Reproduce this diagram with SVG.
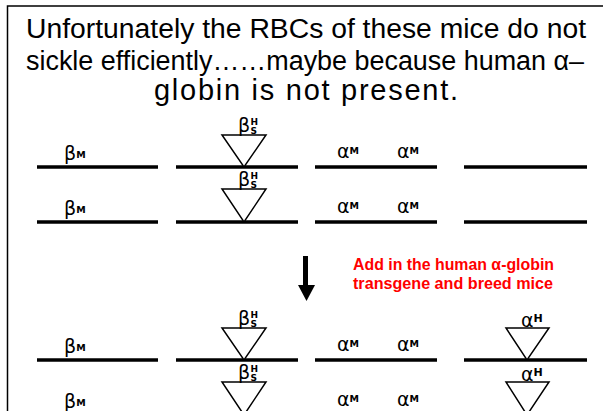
<svg xmlns="http://www.w3.org/2000/svg" width="603" height="411" viewBox="0 0 603 411">
<style>
.title{font-family:"Liberation Sans","DejaVu Sans",sans-serif;font-size:27px;fill:#000;text-anchor:middle}
.t3{font-size:29px}
.note{font-family:"Liberation Sans","DejaVu Sans",sans-serif;font-size:16px;font-weight:bold;fill:#ff0000;text-anchor:start}
.chr{stroke:#000;stroke-width:3.5;fill:none}
.tri{stroke:#000;stroke-width:1.5;fill:#fff}
.g{font-family:"DejaVu Sans","Liberation Sans",sans-serif;font-size:19px;fill:#000}
.sup{font-family:"DejaVu Sans","Liberation Sans",sans-serif;font-size:9.5px;font-weight:bold;fill:#000}
.ss{font-family:"DejaVu Sans","Liberation Sans",sans-serif;font-size:9px;font-weight:bold;fill:#000}
.supH{font-family:"DejaVu Sans","Liberation Sans",sans-serif;font-size:11px;font-weight:bold;fill:#000}
</style>
<rect x="0" y="0" width="603" height="411" fill="#fff"/>
<path d="M7.5 411 V6 H603" stroke="#000" stroke-width="1.5" fill="none"/>
<g id="title">
<text class="title" x="306" y="38" textLength="560" lengthAdjust="spacingAndGlyphs">Unfortunately the RBCs of these mice do not</text>
<text class="title" x="305" y="70" textLength="558" lengthAdjust="spacingAndGlyphs">sickle efficiently……maybe because human α–</text>
<text class="title t3" x="306" y="100" textLength="304" lengthAdjust="spacing">globin is not present.</text>
</g>
<g id="note">
<text class="note" x="353" y="270" textLength="201" lengthAdjust="spacingAndGlyphs">Add in the human α-globin</text>
<text class="note" x="353" y="289" textLength="200" lengthAdjust="spacingAndGlyphs">transgene and breed mice</text>
</g>
<g id="connectors">
<rect x="303" y="256" width="5" height="30" fill="#000"/>
<polygon points="298,285 315,285 306.5,301" fill="#000"/>
</g>
<!-- row 1 -->
<g id="r1-betaM">
<line class="chr" x1="37" y1="167" x2="158" y2="167"/>
<text class="g" x="64" y="160">β<tspan class="sup" dy="-2.5">M</tspan></text>
</g>
<g id="r1-betaSH">
<line class="chr" x1="176" y1="167" x2="298" y2="167"/>
<polygon class="tri" points="222,135 266,135 244,167"/>
<text class="g" x="238" y="132">β<tspan class="ss" x="250.5" dy="-7.5">H</tspan><tspan class="ss" x="250.5" dy="9.5">S</tspan></text>
</g>
<g id="r1-alphaM">
<line class="chr" x1="315" y1="167" x2="437" y2="167"/>
<text class="g" x="337" y="158">α<tspan class="sup" dy="-4.5">M</tspan></text>
<text class="g" x="397" y="158">α<tspan class="sup" dy="-4.5">M</tspan></text>
</g>
<g id="r1-empty">
<line class="chr" x1="464" y1="167" x2="587" y2="167"/>
</g>
<!-- row 2 -->
<g id="r2-betaM">
<line class="chr" x1="37" y1="222" x2="158" y2="222"/>
<text class="g" x="64" y="215">β<tspan class="sup" dy="-2.5">M</tspan></text>
</g>
<g id="r2-betaSH">
<line class="chr" x1="176" y1="222" x2="298" y2="222"/>
<polygon class="tri" points="222,189 266,189 244,222"/>
<text class="g" x="238" y="186">β<tspan class="ss" x="250.5" dy="-7.5">H</tspan><tspan class="ss" x="250.5" dy="9.5">S</tspan></text>
</g>
<g id="r2-alphaM">
<line class="chr" x1="315" y1="222" x2="437" y2="222"/>
<text class="g" x="337" y="213">α<tspan class="sup" dy="-4.5">M</tspan></text>
<text class="g" x="397" y="213">α<tspan class="sup" dy="-4.5">M</tspan></text>
</g>
<g id="r2-empty">
<line class="chr" x1="464" y1="222" x2="587" y2="222"/>
</g>
<!-- row 3 -->
<g id="r3-betaM">
<line class="chr" x1="37" y1="360" x2="158" y2="360"/>
<text class="g" x="64" y="353">β<tspan class="sup" dy="-2.5">M</tspan></text>
</g>
<g id="r3-betaSH">
<line class="chr" x1="176" y1="360" x2="298" y2="360"/>
<polygon class="tri" points="222,328 266,328 244,360"/>
<text class="g" x="238" y="325">β<tspan class="ss" x="250.5" dy="-7.5">H</tspan><tspan class="ss" x="250.5" dy="9.5">S</tspan></text>
</g>
<g id="r3-alphaM">
<line class="chr" x1="315" y1="360" x2="437" y2="360"/>
<text class="g" x="337" y="351">α<tspan class="sup" dy="-4.5">M</tspan></text>
<text class="g" x="397" y="351">α<tspan class="sup" dy="-4.5">M</tspan></text>
</g>
<g id="r3-alphaH">
<line class="chr" x1="464" y1="360" x2="587" y2="360"/>
<polygon class="tri" points="506,328 549,328 527,360"/>
<text class="g" x="521" y="327">α<tspan class="supH" dy="-5">H</tspan></text>
</g>
<!-- row 4 -->
<g id="r4-betaM">
<line class="chr" x1="37" y1="415" x2="158" y2="415"/>
<text class="g" x="64" y="408">β<tspan class="sup" dy="-2.5">M</tspan></text>
</g>
<g id="r4-betaSH">
<line class="chr" x1="176" y1="415" x2="298" y2="415"/>
<polygon class="tri" points="222,382 266,382 244,415"/>
<text class="g" x="238" y="379">β<tspan class="ss" x="250.5" dy="-7.5">H</tspan><tspan class="ss" x="250.5" dy="9.5">S</tspan></text>
</g>
<g id="r4-alphaM">
<line class="chr" x1="315" y1="415" x2="437" y2="415"/>
<text class="g" x="337" y="406">α<tspan class="sup" dy="-4.5">M</tspan></text>
<text class="g" x="397" y="406">α<tspan class="sup" dy="-4.5">M</tspan></text>
</g>
<g id="r4-alphaH">
<line class="chr" x1="464" y1="415" x2="587" y2="415"/>
<polygon class="tri" points="506,382 549,382 527,415"/>
<text class="g" x="521" y="381">α<tspan class="supH" dy="-5">H</tspan></text>
</g>
</svg>
